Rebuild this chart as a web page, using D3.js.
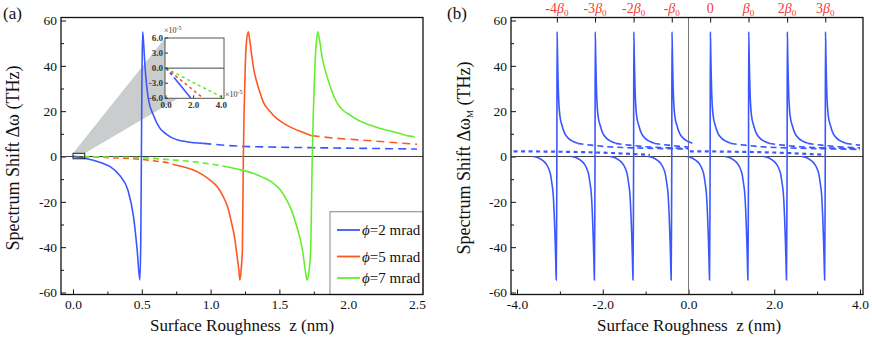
<!DOCTYPE html>
<html><head><meta charset="utf-8">
<script src="https://cdn.jsdelivr.net/npm/d3@7"></script>
<style>
body{margin:0;background:#fff}
svg{display:block}
text{font-family:"Liberation Serif","Times New Roman",serif;fill:#111}
</style>
</head><body>
<svg id="c" width="872" height="337"></svg>
<script>
// ---------------- DATA ----------------
// Panel (a): [z (nm), Δω (THz)]
const blueSolid = [[0,0],[0.07,-0.6],[0.148,-1.7],[0.21,-2.9],[0.27,-4.5],[0.34,-8.4],[0.40,-15],[0.44,-26.6],[0.466,-41],[0.486,-54.5],[0.493,-35],[0.497,0],[0.501,35],[0.506,55],[0.512,51],[0.523,40],[0.547,25.7],[0.584,18.3],[0.632,12.4],[0.68,9.8],[0.729,8],[0.826,6.5],[0.947,5.8]];
const blueDash  = [[0.947,5.8],[1.19,4.6],[1.5,4.1],[1.72,3.9],[2.1,3.6],[2.5,3.3]];
const redDash   = [[0,0],[0.15,-0.2],[0.3,-0.6],[0.486,-1.2],[0.6,-2.0],[0.705,-3],[0.73,-3.5]];
const redSolid  = [[0.73,-3.5],[0.8,-4.5],[0.875,-6],[0.94,-8],[0.996,-10.4],[1.05,-13.5],[1.092,-17.7],[1.125,-22.5],[1.153,-29.5],[1.175,-36],[1.19,-42.7],[1.205,-50],[1.213,-54.5],[1.222,-50],[1.231,-41],[1.238,0],[1.243,18],[1.252,40],[1.26,50],[1.274,55],[1.283,52],[1.298,45],[1.315,38],[1.335,33],[1.36,28],[1.383,24],[1.43,20],[1.48,16.8],[1.54,14.3],[1.60,12.4],[1.67,10.7],[1.734,9.2]];
const redTail   = [[1.734,9.2],[1.9,8.1],[2.086,7.3],[2.3,6.3],[2.5,5.4]];
const greenDash = [[0,0],[0.15,-0.1],[0.3,-0.3],[0.486,-0.5],[0.7,-1.4],[0.875,-2.3],[1.0,-3.3],[1.117,-4.5]];
const greenSolid= [[1.117,-4.5],[1.2,-5.6],[1.31,-7.4],[1.38,-9.2],[1.456,-11.8],[1.51,-15],[1.553,-19.2],[1.59,-24],[1.626,-30.9],[1.667,-41],[1.69,-51],[1.70,-54.5],[1.712,-52],[1.727,-41],[1.739,0],[1.746,18],[1.758,40],[1.768,50],[1.778,55],[1.79,52],[1.81,44],[1.843,36],[1.88,29],[1.916,24],[1.96,20.5],[2.013,18.3],[2.08,15.8],[2.158,13.9],[2.24,12.2],[2.328,10.9],[2.425,9.2]];
const greenTail = [[2.425,9.2],[2.5,8.6]];
const legendLabels = ["=2 mrad","=5 mrad","=7 mrad"];
// inset (×10^-5 units)
const insetBlueDash = [[0,0],[0.6,-1.9]];
const insetBlueSolid = [[0.6,-1.9],[1.8,-6]];
const insetRed = [[0,0],[2.7,-6]];
const insetGreen = [[0,0],[2.0,-2.9],[4.15,-5.9]];
const insetYTicks = [6,3,0,-3,-6];
const insetXTicks = [0,2,4];

// Panel (b): resonance positions (top ticks) and one branch shape [dz, Δω_M]
const betaPos = [-3.07,-2.18,-1.28,-0.39,0.505,1.40,2.30,3.19];
const betaLabels = ["-4β0","-3β0","-2β0","-β0","0","β0","2β0","3β0"];
const bShapeSolid = [[-0.55,0],[-0.45,-0.4],[-0.35,-1.5],[-0.25,-3.3],[-0.195,-5.2],[-0.15,-7.8],[-0.117,-11.8],[-0.085,-17],[-0.06,-26.5],[-0.04,-37],[-0.028,-45],[-0.015,-54.5],[-0.006,-30],[0,0],[0.005,55],[0.015,45],[0.03,32],[0.045,24],[0.07,18],[0.117,13.9],[0.18,10.3],[0.27,8],[0.38,6.6],[0.48,5.8]];
const bShapeTail = [[0.48,5.8],[0.8,5.0],[1.2,4.3],[2.0,3.7],[3.0,3.3],[3.6,3.1]];
const bBandLeft  = [[-4.08,2.3],[-3.0,2.1],[-2.2,1.8],[-1.5,1.3],[-0.9,0.7]];
const bBandRight = [[0.03,2.3],[1.1,2.1],[1.9,1.8],[2.6,1.3],[3.2,0.7]];

const xTicksA = [0,0.5,1.0,1.5,2.0,2.5];
const xTicksB = [-4,-2,0,2,4];
const yTicks = [-60,-40,-20,0,20,40,60];

const BLUE="#3a57ff", RED="#ff5722", GREEN="#66ee2c", TOPRED="#f03c3c";

// ---------------- LAYOUT ----------------
const svg = d3.select("#c");
const A = {l:61, r:423, t:17.5, b:294.5};
const B = {l:511, r:863, t:17.5, b:294.5};
const xA = d3.scaleLinear().domain([0,2.5]).range([73,417]);
const xB = d3.scaleLinear().domain([-4,4]).range([517,860]);
const y = d3.scaleLinear().domain([-60,60]).range([292.5,20.5]);

const defs = svg.append("defs");
defs.append("clipPath").attr("id","clipA").append("rect").attr("x",A.l).attr("y",A.t).attr("width",A.r-A.l).attr("height",A.b-A.t);
defs.append("clipPath").attr("id","clipB").append("rect").attr("x",B.l).attr("y",B.t).attr("width",B.r-B.l).attr("height",B.b-B.t);
defs.append("clipPath").attr("id","clipBL").append("rect").attr("x",B.l).attr("y",B.t).attr("width",xB(0)-B.l).attr("height",B.b-B.t);
defs.append("clipPath").attr("id","clipBR").append("rect").attr("x",xB(0)).attr("y",B.t).attr("width",xB(4.0)-xB(0)).attr("height",B.b-B.t);

function axes(P, x, xt, fmt, minorX){
  const g = svg.append("g");
  g.append("g").attr("transform",`translate(${P.l},0)`)
    .call(d3.axisLeft(y).tickValues(yTicks).tickSizeInner(-5).tickSizeOuter(0).tickPadding(4).tickFormat(d=>String(d)));
  g.append("g").attr("transform",`translate(${P.l},0)`)
    .call(d3.axisLeft(y).tickValues(d3.range(-50,60,20)).tickSizeInner(-3).tickSizeOuter(0).tickFormat(""));
  g.append("g").attr("transform",`translate(0,${P.b})`)
    .call(d3.axisBottom(x).tickValues(xt).tickSizeInner(-5).tickSizeOuter(0).tickPadding(5).tickFormat(fmt));
  g.append("g").attr("transform",`translate(0,${P.b})`)
    .call(d3.axisBottom(x).tickValues(minorX).tickSizeInner(-3).tickSizeOuter(0).tickFormat(""));
  g.selectAll(".domain").remove();
  g.selectAll(".tick line").attr("stroke","#111");
  g.selectAll(".tick text").style("font-family",'"Liberation Serif","Times New Roman",serif').style("font-size","13.5px").attr("fill","#111");
  svg.append("line").attr("x1",P.l).attr("x2",P.r).attr("y1",y(0)).attr("y2",y(0)).attr("stroke","#444").attr("stroke-width",1);
}
axes(A, xA, xTicksA, d=>d.toFixed(1), [0.25,0.75,1.25,1.75,2.25]);
axes(B, xB, xTicksB, d=>d.toFixed(1), [-3,-1,1,3]);
svg.append("line").attr("x1",xB(0)).attr("x2",xB(0)).attr("y1",B.t).attr("y2",B.b).attr("stroke","#777").attr("stroke-width",1);

// panel b top axis
const ta = svg.append("g").attr("transform",`translate(0,${B.t})`)
  .call(d3.axisTop(xB).tickValues(betaPos).tickSizeInner(-5).tickSizeOuter(0).tickFormat(""));
ta.select(".domain").remove();
ta.selectAll(".tick line").attr("stroke","#111");
betaLabels.forEach((lab,i)=>{
  const t = svg.append("text").attr("x",xB(betaPos[i])).attr("y",13).attr("text-anchor","middle")
    .style("font-size","14px").style("fill",TOPRED);
  if(lab.indexOf("β0")>=0){
    const coef = lab.replace("β0","");
    if(coef) t.append("tspan").text(coef);
    t.append("tspan").style("font-style","italic").text("β");
    t.append("tspan").attr("dy",2.5).style("font-size","9px").text("0");
  } else t.text(lab);
});

// ---------------- PANEL A ----------------
const lineA = d3.line().x(d=>xA(d[0])).y(d=>y(d[1])).curve(d3.curveMonotoneX);
const gA = svg.append("g").attr("clip-path","url(#clipA)");
const xI = d3.scaleLinear().domain([0,4]).range([166,221.3]);
const yI = d3.scaleLinear().domain([-6,6]).range([98.3,38]);
gA.append("polygon").attr("points",[[xA(0),y(1.4)],[165,yI(6)],[xI(0.9),yI(-6)],[xA(0.085),y(1.4)]].map(p=>p.join(",")).join(" "))
  .attr("fill","#c9cdcd");
function path(g, data, color, dash, lf){
  return g.append("path").attr("d",(lf||lineA)(data)).attr("fill","none").attr("stroke",color)
   .attr("stroke-width",1.6).attr("stroke-dasharray",dash||null);
}
path(gA, redDash, RED, "6,4");
path(gA, greenDash, GREEN, "6,4");
path(gA, blueSolid, BLUE);
path(gA, blueDash, BLUE, "8,5");
path(gA, redSolid, RED);
path(gA, redTail, RED, "8,5");
path(gA, greenSolid, GREEN);
path(gA, greenTail, GREEN, "8,5");
svg.append("rect").attr("x",xA(0)).attr("y",y(1.4)).attr("width",xA(0.085)-xA(0)).attr("height",y(-1)-y(1.4))
  .attr("fill","none").attr("stroke","#222").attr("stroke-width",1);

// inset
const gI = svg.append("g");
gI.append("rect").attr("x",165).attr("y",yI(6)).attr("width",224-165).attr("height",yI(-6)-yI(6)).attr("fill","#fff");
defs.append("clipPath").attr("id","clipI").append("rect").attr("x",165).attr("y",yI(6)).attr("width",224-165).attr("height",yI(-6)-yI(6));
const lineI = d3.line().x(d=>xI(d[0])).y(d=>yI(d[1]));
const gIc = gI.append("g").attr("clip-path","url(#clipI)");
gIc.append("line").attr("x1",165).attr("x2",224).attr("y1",yI(0)).attr("y2",yI(0)).attr("stroke","#444");
[[insetGreen,GREEN,"3,3"],[insetRed,RED,"3,3"],[insetBlueDash,BLUE,"3,3"],[insetBlueSolid,BLUE,null]].forEach(s=>{
  gIc.append("path").attr("d",lineI(s[0])).attr("fill","none").attr("stroke",s[1]).attr("stroke-width",1.6).attr("stroke-dasharray",s[2]);
});
gI.append("rect").attr("x",165).attr("y",yI(6)).attr("width",224-165).attr("height",yI(-6)-yI(6)).attr("fill","none").attr("stroke","#555").attr("stroke-width",1);
insetYTicks.forEach(v=>{
  gI.append("line").attr("x1",165).attr("x2",168).attr("y1",yI(v)).attr("y2",yI(v)).attr("stroke","#333");
  gI.append("text").attr("x",163).attr("y",yI(v)+3).attr("text-anchor","end").style("font-size","9px").style("font-weight","bold").style("fill","#333").text(v.toFixed(1));
});
insetXTicks.forEach(v=>{
  gI.append("line").attr("x1",xI(v)).attr("x2",xI(v)).attr("y1",yI(-6)).attr("y2",yI(-6)-3).attr("stroke","#333");
  gI.append("text").attr("x",xI(v)).attr("y",yI(-6)+10).attr("text-anchor","middle").style("font-size","9px").style("font-weight","bold").style("fill","#333").text(v.toFixed(1));
});
function sci(x0,y0){
  const t = gI.append("text").attr("x",x0).attr("y",y0).style("font-size","8px").style("fill","#333");
  t.append("tspan").text("×10");
  t.append("tspan").attr("dy",-3).style("font-size","6px").text("-5");
}
sci(164,33);
sci(225,97);

// legend
const lg = svg.append("g");
lg.append("rect").attr("x",330).attr("y",211.7).attr("width",A.r-330).attr("height",A.b-211.7).attr("fill","#fff").attr("stroke","#999").attr("stroke-width",1.2);
[BLUE,RED,GREEN].forEach((c,i)=>{
  const yy = [230,256.5,278][i];
  lg.append("line").attr("x1",337).attr("x2",360).attr("y1",yy).attr("y2",yy).attr("stroke",c).attr("stroke-width",1.8);
  const t = lg.append("text").attr("x",362).attr("y",yy+5).style("font-size","15px");
  t.append("tspan").style("font-style","italic").text("ϕ");
  t.append("tspan").text(legendLabels[i]);
});

// ---------------- PANEL B ----------------
const lineB = d3.line().x(d=>xB(d[0])).y(d=>y(d[1])).curve(d3.curveMonotoneX);
const gB = svg.append("g").attr("clip-path","url(#clipB)");
const gBL = svg.append("g").attr("clip-path","url(#clipBL)");
const gBR = svg.append("g").attr("clip-path","url(#clipBR)");
path(gBL, bBandLeft, BLUE, "4,3.5", lineB).attr("stroke-width",2.2);
path(gBR, bBandRight, BLUE, "4,3.5", lineB).attr("stroke-width",2.2);
betaPos.forEach(p=>{
  path(p<0?gBL:gBR, bShapeTail.map(d=>[p+d[0],d[1]]), BLUE, "6,4", lineB);
});
betaPos.forEach(p=>{
  path(gB, bShapeSolid.map(d=>[p+d[0],d[1]]), BLUE, null, lineB);
});

// frames
[A,B].forEach(P=>svg.append("rect").attr("x",P.l).attr("y",P.t).attr("width",P.r-P.l).attr("height",P.b-P.t).attr("fill","none").attr("stroke","#111").attr("stroke-width",1.3));

// titles
function ytitle(x0, sub){
  const t = svg.append("text").attr("transform",`translate(${x0},158) rotate(-90)`).attr("text-anchor","middle").style("font-size","18px");
  t.append("tspan").text("Spectrum Shift Δω");
  if(sub){ t.append("tspan").attr("dy",3).style("font-size","9px").text(sub); t.append("tspan").attr("dy",-3).text(" (THz)"); }
  else t.append("tspan").text(" (THz)");
}
ytitle(19, null);
ytitle(470, "M");
const xTitle = "Surface Roughness\u00a0 z (nm)";
svg.append("text").attr("x",242).attr("y",331).attr("text-anchor","middle").style("font-size","17px").text(xTitle);
svg.append("text").attr("x",689).attr("y",331).attr("text-anchor","middle").style("font-size","17px").text(xTitle);
svg.append("text").attr("x",3).attr("y",19).style("font-size","17px").text("(a)");
svg.append("text").attr("x",447).attr("y",19).style("font-size","17px").text("(b)");
</script>
</body></html>
